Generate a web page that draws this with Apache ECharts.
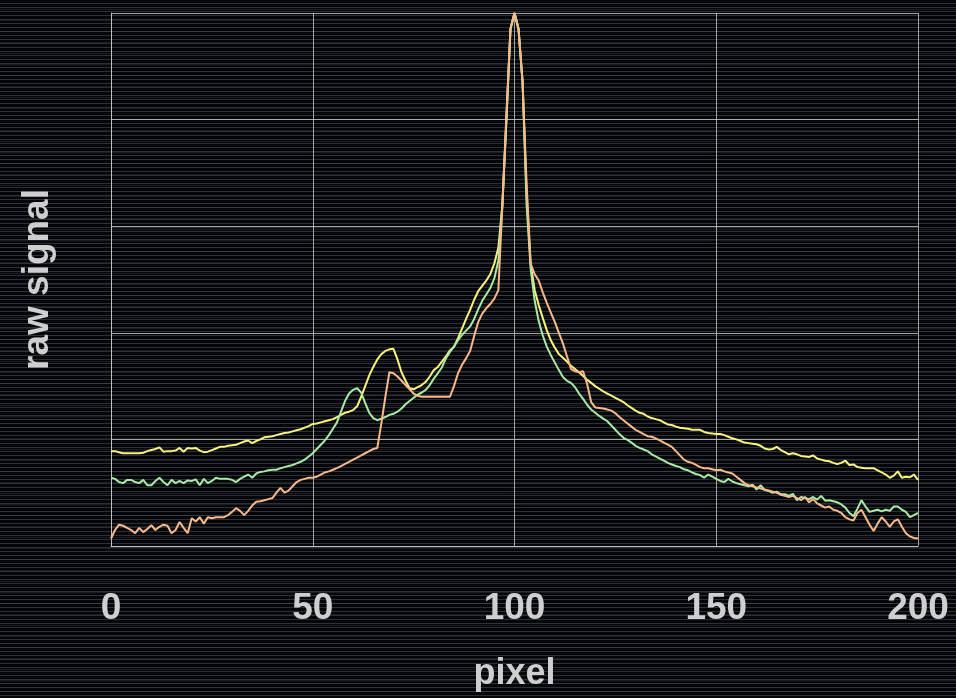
<!DOCTYPE html>
<html>
<head>
<meta charset="utf-8">
<script src="https://cdn.jsdelivr.net/npm/echarts@6/dist/echarts.min.js"></script>
<style>
html,body{margin:0;padding:0;background:#050608;}
#chart{width:956px;height:698px;
background:
repeating-linear-gradient(to bottom,rgba(0,0,0,0) 0px,rgba(0,0,0,0) 9px,rgba(90,95,105,0.25) 9px,rgba(90,95,105,0.25) 10px,rgba(0,0,0,0) 10px,rgba(0,0,0,0) 11px),
repeating-linear-gradient(to bottom,#050608 0px,#050608 3px,#2c3038 3px,#2c3038 4px);}
</style>
</head>
<body>
<div id="chart"></div>
<script>
const xTicks = [0, 50, 100, 150, 200];
const yellowValues = [
17.8,17.8,17.6,17.4,17.4,17.4,17.4,17.4,17.5,17.8,
18.0,18.2,18.5,17.7,17.8,17.8,17.9,18.4,17.7,18.4,
18.3,18.4,17.9,17.6,17.7,18.0,18.3,18.6,18.6,18.8,
18.9,19.0,19.3,19.6,19.8,19.3,19.7,20.0,20.4,20.5,
20.6,20.8,21.0,21.2,21.3,21.5,21.7,21.9,22.2,22.5,
22.9,23.0,23.2,23.4,23.6,23.8,24.2,24.6,25.0,25.2,
25.5,26.2,28.0,30.0,32.0,33.6,35.0,36.0,36.6,36.9,
37.0,35.0,32.6,31.0,29.6,29.4,29.8,30.2,30.8,31.8,
33.0,33.6,34.6,35.6,36.7,37.4,39.0,40.8,42.6,44.3,
46.2,47.8,48.8,49.8,51.0,53.0,56.0,64.0,80.0,97.0,
100,
97.0,87.0,66.0,53.0,48.0,45.2,42.8,40.5,38.6,37.2,
36.0,35.3,34.6,33.8,33.2,32.6,31.9,31.2,30.6,30.0,
29.5,29.0,28.6,28.2,27.8,27.4,27.0,26.4,25.9,25.4,
25.0,24.8,24.3,24.0,23.8,23.6,23.2,22.8,22.7,22.4,
22.2,22.1,22.0,21.8,21.8,21.8,21.4,21.2,21.1,21.0,
21.0,20.8,20.5,20.2,20.0,19.7,19.4,19.3,19.2,19.1,
18.8,18.3,18.1,18.2,18.6,18.0,17.6,17.2,17.4,17.2,
16.9,16.8,16.7,17.0,16.4,16.2,16.0,15.9,15.6,15.4,
15.6,16.0,15.2,15.3,14.8,14.7,14.6,14.6,14.6,14.2,
13.8,13.4,12.8,13.2,14.0,12.8,13.0,12.9,13.4,12.4
];
const greenValues = [
12.8,12.6,12.0,11.8,12.4,12.4,12.0,11.8,12.4,11.4,
11.4,12.2,12.8,12.0,11.4,12.4,11.8,12.2,11.8,12.3,
12.2,12.5,11.4,12.6,11.8,12.2,12.8,12.6,12.6,12.6,
12.4,12.0,12.6,13.0,13.4,12.8,13.6,13.9,14.0,14.2,
14.3,14.3,14.6,14.8,15.0,15.2,15.5,15.8,16.2,16.8,
17.4,18.2,19.0,19.8,20.8,22.0,23.2,25.2,27.2,28.6,
29.3,29.6,28.8,26.8,25.0,24.0,23.6,23.9,24.2,24.6,
24.8,25.2,25.8,26.6,27.2,27.8,28.4,28.8,29.3,30.2,
31.4,32.4,33.5,35.2,36.4,37.4,38.6,39.6,40.4,41.2,
42.6,44.4,46.0,47.2,48.4,50.2,53.5,64.0,80.0,97.0,
100,
97.0,87.0,64.0,52.0,46.0,42.2,39.5,37.4,35.8,34.4,
33.0,31.7,31.0,30.6,29.8,28.6,27.6,26.5,25.6,25.0,
24.4,23.9,23.4,22.6,21.8,21.0,20.3,19.9,19.4,18.8,
18.4,18.1,17.8,17.2,16.8,16.4,16.0,15.6,15.3,15.0,
14.8,14.4,14.2,13.8,13.5,13.3,12.8,13.4,13.0,12.6,
12.2,12.0,12.6,12.1,11.8,11.6,11.4,11.2,11.5,10.6,
11.4,10.5,10.3,10.0,10.2,9.7,9.7,9.4,9.8,8.6,
9.2,9.0,8.8,9.2,8.7,9.4,8.5,8.6,8.4,8.2,
7.8,7.2,6.2,5.6,7.0,8.6,7.4,6.4,6.6,6.8,
6.5,6.8,6.6,7.4,7.4,6.8,6.4,5.4,5.8,6.2
];
const orangeValues = [
1.4,3.0,4.0,3.8,3.4,3.0,2.4,3.4,2.6,3.2,
3.9,3.0,3.6,4.0,3.8,2.4,3.0,4.5,3.4,2.4,
5.2,4.6,5.4,4.2,5.4,5.2,5.4,5.4,5.4,5.8,
6.4,7.1,6.6,5.8,6.6,7.6,8.3,8.4,8.6,8.8,
9.0,10.0,10.9,10.0,10.4,11.2,12.0,12.4,12.6,12.8,
12.8,13.0,13.4,13.8,14.0,14.3,14.6,15.0,15.4,15.8,
16.2,16.6,17.0,17.4,17.8,18.2,18.4,23.0,28.0,32.6,
32.4,31.8,31.0,30.2,29.4,28.6,28.2,28.0,28.0,28.0,
28.0,28.0,28.0,28.0,28.0,30.0,32.4,34.0,35.2,36.6,
39.4,42.0,43.6,44.6,45.4,46.4,48.0,64.0,81.0,97.0,
100,
97.0,87.0,68.0,53.0,51.0,49.8,47.6,45.6,43.8,42.0,
40.0,38.0,35.6,33.2,32.8,32.6,32.8,30.4,27.0,26.0,
25.9,25.8,25.6,25.4,24.9,24.2,23.6,23.0,22.4,21.8,
21.4,21.0,20.6,20.5,20.2,19.8,19.4,19.0,18.6,17.8,
17.0,16.2,15.8,15.6,15.2,14.8,14.6,14.6,14.4,14.2,
14.3,14.0,13.8,13.6,13.0,12.4,11.8,11.4,11.2,11.0,
10.8,10.6,10.4,10.2,10.0,9.6,9.4,9.2,9.4,9.0,
8.6,9.2,8.2,8.8,8.0,7.6,7.2,7.4,6.8,6.6,
6.2,5.4,5.0,4.8,6.2,6.8,5.4,4.0,2.8,4.2,
5.4,4.6,3.6,4.6,5.0,3.6,2.4,1.8,1.5,1.4
];
const seriesNames = ['yellow', 'green', 'orange'];
const seriesColors = ['#fbf27c', '#a8eba6', '#fbb98a'];
const seriesData = [yellowValues, greenValues, orangeValues];

const chart = echarts.init(document.getElementById('chart'), null, {renderer: 'canvas'});
const textColor = '#cfcfcf';
const gridColor = 'rgba(200,200,200,0.8)';
chart.setOption({
  backgroundColor: 'transparent',
  animation: false,
  grid: {left: 111, right: 38, top: 13, bottom: 152},
  xAxis: {
    type: 'value', min: xTicks[0], max: xTicks[xTicks.length - 1], interval: 50,
    name: 'pixel', nameLocation: 'middle', nameGap: 110,
    nameTextStyle: {color: textColor, fontSize: 36, fontWeight: 'bold', fontFamily: 'Liberation Sans, Arial, sans-serif'},
    axisLine: {show: true, lineStyle: {color: gridColor, width: 1}},
    axisTick: {show: false},
    axisLabel: {color: textColor, fontSize: 37, fontWeight: 'bold', margin: 44, fontFamily: 'Liberation Sans, Arial, sans-serif'},
    splitLine: {show: true, lineStyle: {color: gridColor, width: 1}}
  },
  yAxis: {
    type: 'value', min: 0, max: 100, interval: 20,
    name: 'raw signal', nameLocation: 'middle', nameGap: 55, nameRotate: 90,
    nameTextStyle: {color: textColor, fontSize: 37, fontWeight: 'bold', fontFamily: 'Liberation Sans, Arial, sans-serif'},
    axisLine: {show: true, lineStyle: {color: gridColor, width: 1}},
    axisTick: {show: false},
    axisLabel: {show: false},
    splitLine: {show: true, lineStyle: {color: gridColor, width: 1}}
  },
  series: seriesNames.map((n, i) => ({
    name: n, type: 'line', showSymbol: false, symbol: 'none',
    data: seriesData[i].map((v, x) => [x, v]),
    lineStyle: {color: seriesColors[i], width: 2},
    itemStyle: {color: seriesColors[i]}
  }))
});
</script>
</body>
</html>
